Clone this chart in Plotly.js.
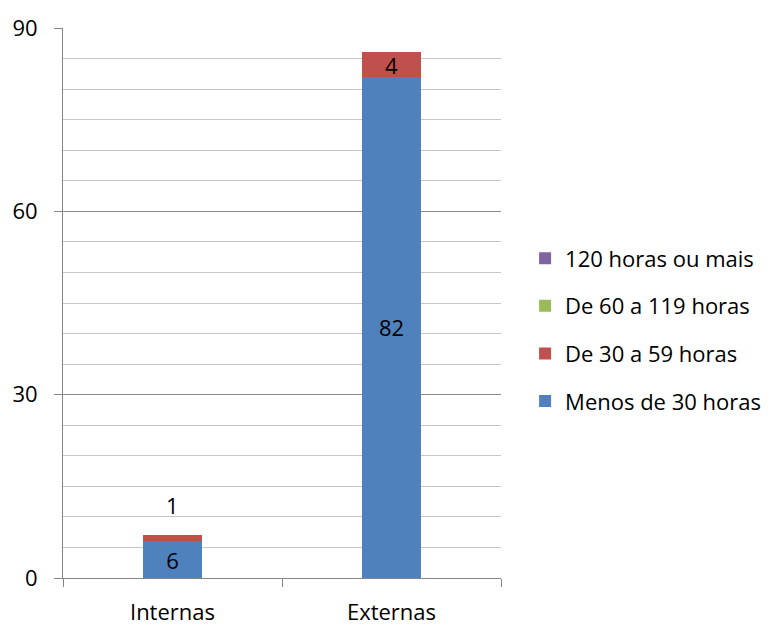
<!DOCTYPE html>
<html><head><meta charset="utf-8">
<script src="https://cdn.plot.ly/plotly-3.0.1.min.js"></script>
<style>body{margin:0;background:#fff}#c{width:773px;height:627px}</style>
</head><body><div id="c"></div>
<script>
const categories = ['Internas', 'Externas'];
const seriesNames = ['Menos de 30 horas', 'De 30 a 59 horas', 'De 60 a 119 horas', '120 horas ou mais'];
const menos30 = [6, 82];
const de30a59 = [1, 4];
const de60a119 = [0, 0];
const mais120 = [0, 0];
const yTicks = [0, 30, 60, 90];

const colors = ['#4F81BD', '#C0504D', '#9BBB59', '#8064A2'];
const values = [menos30, de30a59, de60a119, mais120];
const FONT = '"Open Sans", sans-serif';
const FS = 22;
const tf = {family: FONT, size: FS, color: '#000'};

// small segments (too thin to hold their label) are labelled above the stack
const fitsInside = (v) => v >= 3;

const traces = values.map((v, i) => {
  const t = {
    type: 'bar', x: categories, y: v, name: seriesNames[i],
    marker: {color: colors[i]}, legendgroup: 'g' + i, legendrank: 10 - i,
    width: 0.265, hoverinfo: 'x+y+name'
  };
  if (i < 2) {
    t.text = v.map(val => fitsInside(val) ? String(val) : '');
    t.textposition = 'inside';
    t.insidetextanchor = 'middle';
    t.textangle = 0;
    t.textfont = tf; t.insidetextfont = tf;
    t.constraintext = 'none';
    t.cliponaxis = false;
  } else {
    t.textposition = 'none';
  }
  return t;
});

const annotations = [];
categories.forEach((c, k) => {
  const v = de30a59[k];
  if (v > 0 && !fitsInside(v)) {
    annotations.push({
      x: c, y: menos30[k] + v, xref: 'x', yref: 'y', text: String(v),
      showarrow: false, yanchor: 'bottom', yshift: 13, font: tf
    });
  }
});

const layout = {
  width: 773, height: 627,
  margin: {l: 63, r: 272, t: 28, b: 49, autoexpand: false},
  paper_bgcolor: '#fff', plot_bgcolor: '#fff',
  barmode: 'stack',
  showlegend: true,
  font: tf,
  annotations: annotations,
  legend: {
    x: 1.055, y: 0.451, xanchor: 'left', yanchor: 'middle',
    traceorder: 'grouped', tracegroupgap: 16,
    font: tf, itemwidth: 30
  },
  xaxis: {
    type: 'category', ticks: 'outside', tickson: 'boundaries', ticklen: 8,
    tickcolor: '#868686', showline: true, linecolor: '#868686', linewidth: 1,
    showgrid: false, ticklabelstandoff: 15,
    tickfont: tf, fixedrange: true
  },
  yaxis: {
    range: [0, 90], tickmode: 'array', tickvals: yTicks, ticktext: yTicks.map(String),
    ticks: 'outside', ticklen: 8, tickcolor: '#868686',
    showline: true, linecolor: '#868686', linewidth: 1,
    showgrid: true, gridcolor: '#8c8c8c', gridwidth: 1, zeroline: false,
    minor: {dtick: 5, showgrid: true, gridcolor: '#c6c6c6', gridwidth: 1, ticks: ''},
    ticklabelstandoff: 12,
    tickfont: tf, fixedrange: true
  }
};

Plotly.newPlot('c', traces, layout, {displayModeBar: false, staticPlot: true});
</script></body></html>
